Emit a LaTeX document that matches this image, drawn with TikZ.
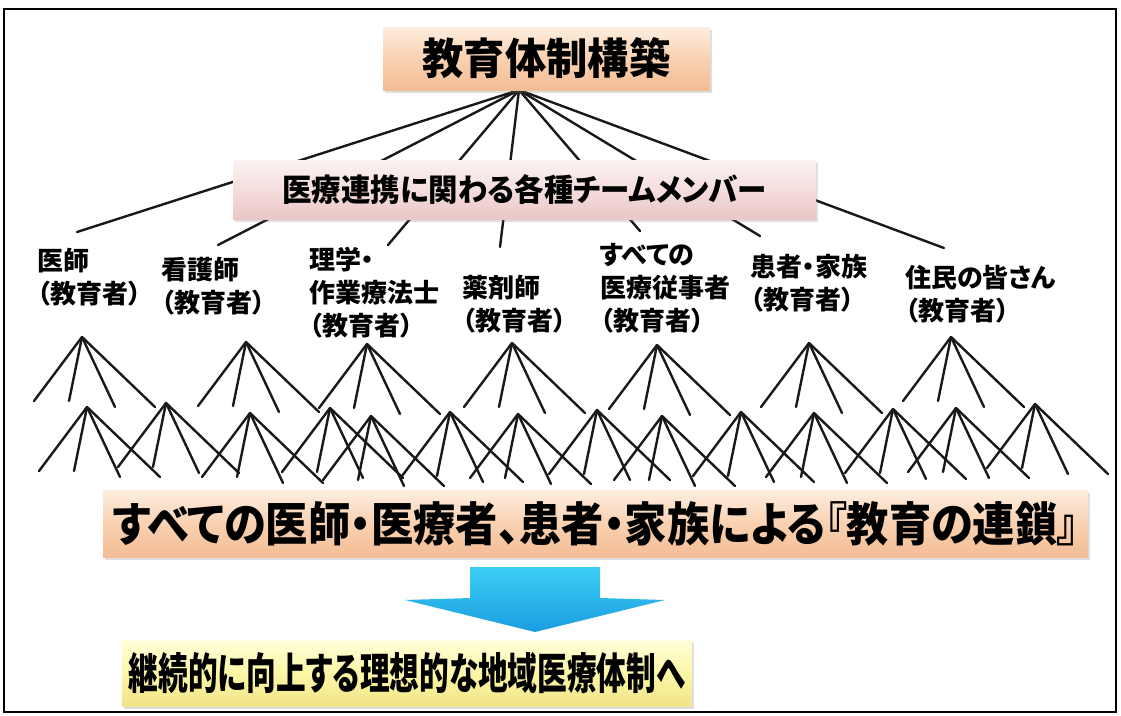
\documentclass[tikz,border=0pt]{standalone}
\usepackage{fontspec}
\usetikzlibrary{shadows,calc}
\newfontfamily\jp{Noto Sans CJK JP}[RawFeature={+palt}]
\newfontfamily\jpf{Noto Sans CJK JP}
\definecolor{peachtop}{HTML}{FDEEDF}
\definecolor{peachmid}{HTML}{F9D1B1}
\definecolor{peachbot}{HTML}{F3BD95}
\definecolor{pinktop}{HTML}{FCF2F2}
\definecolor{pinkmid}{HTML}{F5DDDD}
\definecolor{pinkbot}{HTML}{EBC6C6}
\definecolor{yeltop}{HTML}{FFFFDA}
\definecolor{yelmid}{HTML}{FCF6A6}
\definecolor{yelbot}{HTML}{F0E488}
\definecolor{arrtop}{HTML}{3DCFF6}
\definecolor{arrbot}{HTML}{1B9CE0}
\begin{document}
\begin{tikzpicture}[x=1pt,y=-1pt,
  ln/.style={line width=2.4pt, black!90, line cap=round},
  shadowed/.style={drop shadow={shadow xshift=2pt,shadow yshift=-3pt,opacity=0.25}},
  peachbox/.style={inner sep=0pt, top color=peachtop, bottom color=peachbot, middle color=peachmid, shadowed},
  pinkbox/.style={inner sep=0pt, top color=pinktop, bottom color=pinkbot, middle color=pinkmid, shadowed},
  yelbox/.style={inner sep=0pt, top color=yeltop, bottom color=yelbot, middle color=yelmid, shadowed},
  lbl/.style={anchor=north west, inner sep=0pt, align=left, font=\jp\bfseries\fontsize{26}{33}\selectfont}]
\useasboundingbox (0,0) rectangle (1121,715);
\fill[white] (0,0) rectangle (1121,715);
\draw[line width=2pt] (4,9) rectangle (1116,712);

% fan from the top box
\coordinate (fan) at (519,90);
\coordinate (f1) at (77,232);
\coordinate (f2) at (218,245);
\coordinate (f3) at (388,245);
\coordinate (f4) at (500,247);
\coordinate (f5) at (640,231);
\coordinate (f6) at (760,236);
\coordinate (f7) at (944,248);
\foreach \i in {1,...,7} \draw[ln] (fan) -- (f\i);

% middle box
\node[pinkbox, minimum width=583pt, minimum height=59pt] (mid) at (524.5,189.5)
  {\resizebox{484pt}{27pt}{\jp\bfseries\fontsize{30}{30}\selectfont 医療連携に関わる各種チームメンバー}};

% top box
\node[peachbox, minimum width=327pt, minimum height=63pt] (top) at (546.5,58.5)
  {\resizebox{248pt}{37pt}{\jpf\bfseries\fontsize{42}{42}\selectfont 教育体制構築}};

% labels
\node[lbl] (L1) at (37,248) {医師\\（教育者）};
\node[lbl] (L2) at (161,257) {看護師\\（教育者）};
\node[lbl] (L3) at (309,247) {理学・\\作業療法士\\（教育者）};
\node[lbl] (L4) at (462,275) {薬剤師\\（教育者）};
\node[lbl] (L5) at (600,243) {すべての\\医療従事者\\（教育者）};
\node[lbl] (L6) at (750,254) {患者・家族\\（教育者）};
\node[lbl] (L7) at (905,265) {住民の皆さん\\（教育者）};

% chain of trees
\foreach \x/\y [count=\i] in {82/337,246/342,367/344,512/343,657/345,809/343,951/337,
  87/407,166/403,250/413,330/408,371/416,450/412,518/414,597/410,662/416,741/412,814/413,893/409,956/408,1035/404}{
  \coordinate (T\i) at (\x,\y);
  \foreach \dx/\dy [count=\j] in {-48/64,-13/64,33/70,73/70}{
    \coordinate (T\i-\j) at ($(T\i)+(\dx,\dy)$);
    \draw[ln] (T\i) -- (T\i-\j);
  }
}

% chain box
\node[peachbox, minimum width=985pt, minimum height=67pt] (chain) at (595.5,523.5)
  {\resizebox{966pt}{40pt}{\jp\bfseries すべての医師・医療者、患者・家族による『教育の連鎖』}};

% block arrow
\shade[top color=arrtop, bottom color=arrbot]
  (470,567) -- (600,567) -- (600,598) -- (665,600) -- (535,632) -- (405,600) -- (470,598) -- cycle;

% goal box
\node[yelbox, minimum width=570pt, minimum height=66pt] (goal) at (407,673)
  {\resizebox{556pt}{37pt}{\jp\bfseries 継続的に向上する理想的な地域医療体制へ}};
\end{tikzpicture}
\end{document}
